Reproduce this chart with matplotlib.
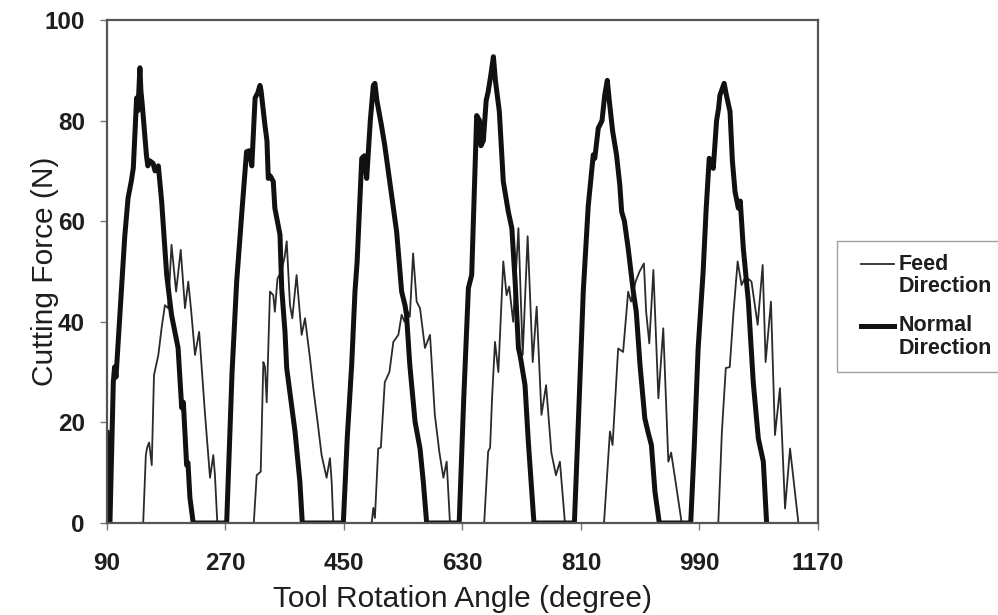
import matplotlib
matplotlib.use("Agg")
import matplotlib.pyplot as plt
from matplotlib.legend_handler import HandlerLine2D

plt.rcParams['font.family'] = ['Liberation Sans', 'DejaVu Sans']

# Normal direction cutting force (thick line)
normal_angle = [90, 94.5, 99.6, 101.5, 103.7, 108, 112, 117, 122, 127, 130, 135, 137, 140, 141.5, 143.7,
                150, 152, 155, 160, 163, 168, 173, 180.7, 188, 198, 203.5, 206, 211, 213, 216, 221,
                271.8, 280, 287, 295, 302, 306, 310, 315, 319, 322.4, 324, 330, 333, 335, 338, 342.6,
                345, 352.8, 355.4, 360.4, 363, 375.6, 383, 386.7,
                449, 455, 461.7, 466.7, 470, 477, 481, 484.5, 490, 494.6, 497, 500, 507, 512, 517.3,
                522.5, 530, 537.6, 542.7, 545, 550, 558, 565.5, 570.5, 575.6,
                625, 632, 639, 644, 651.6, 656, 658, 661.7, 666, 669, 673, 677, 680, 686, 692, 699.6,
                705, 710, 715, 718, 725, 730, 735, 738.6,
                800, 806, 813.5, 821, 828.7, 831, 836.3, 842, 846, 850, 853, 858, 864, 869, 871.8,
                876, 881.7, 889.5, 894, 899.7, 907, 912, 917, 922.4, 929,
                976.7, 982, 988, 995.6, 1000, 1004.8, 1008, 1011, 1016, 1019, 1021, 1027.5, 1031,
                1036.4, 1040, 1044, 1049, 1052, 1056.6, 1064.3, 1071.7, 1079.4, 1087, 1092]
normal_force = [18, 0, 28, 31, 29, 38, 46.7, 57, 64.6, 68, 70.6, 84.5, 82, 90.5, 86, 83,
                73, 71, 72, 71.5, 70, 71, 64, 49.3, 41.4, 34.8, 22.9, 24, 11.5, 12, 5, 0,
                0, 30, 48, 62, 73.8, 74, 71, 84.5, 85.5, 87, 86, 79, 76, 68.5, 69, 67.9,
                62.6, 57.3, 46.7, 38, 30.8, 18.2, 8.2, 0,
                0, 17, 31.4, 46, 52, 72.5, 73, 68.5, 80, 87, 87.4, 84, 79, 75, 70,
                65.2, 57.9, 46, 43.3, 41.4, 31.4, 20.1, 14.8, 8.2, 0,
                0, 25, 46.7, 49.3, 81, 80, 75, 76, 84, 85.7, 89, 92.7, 88, 81.8, 67.9, 61.9,
                58.6, 48, 34.8, 33, 27.4, 16.2, 6.9, 0,
                0, 20, 46, 63, 73.2, 72.5, 78.5, 80, 85, 88, 84, 78, 73.2, 67.2, 61.9,
                60, 54.6, 46, 42, 31.4, 20.8, 18, 15.5, 6.2, 0,
                0, 15, 34.7, 50, 62, 72.5, 72, 70.5, 80, 82.4, 85, 87.4, 85,
                81.8, 72, 65.9, 62.6, 64, 54.6, 44, 28, 16.8, 12.2, 0]

# Feed direction cutting force (thin line)
feed_angle = [90, 145, 149, 151, 154, 158, 161.4, 168, 173, 178, 183, 188, 195, 202, 208.5, 213.5,
              218, 223.7, 230, 239, 246.5, 251.5, 254, 257.6,
              313, 317.4, 323.5, 327.5, 330, 332.6, 337.6, 342.6, 345, 349, 355, 360, 363, 368,
              371.5, 378, 385.7, 390.8, 398.4, 403.4, 410, 416, 423.6, 428.7, 431.3, 433.8,
              492, 494.6, 497, 502, 506, 512, 519, 525, 532.6, 537.6, 542, 547, 550, 555, 560.4,
              565.5, 573, 580.7, 588, 595, 601, 606, 611,
              663, 669, 672, 675, 679.4, 684.5, 692, 697, 701, 707, 715, 721.5, 729, 736.7, 742.7,
              750, 757, 765, 772, 778, 785.7,
              845, 854, 858, 866.5, 874, 881.7, 886, 893, 899, 905.6, 909, 913.8, 920, 927.6, 935,
              942.7, 947, 954.4, 963,
              1018.6, 1024, 1030, 1036, 1041.4, 1048, 1054, 1060, 1069, 1078.4, 1086, 1090.5,
              1098.6, 1104.7, 1112.3, 1120, 1127.6, 1140.3]
feed_force = [0, 0, 13.5, 15, 16, 11.5, 29.4, 33.4, 38.8, 43.3, 42.7, 55.3, 46, 54.3, 42.7, 48,
              42, 33.4, 38, 21.5, 9, 13.5, 9.5, 0,
              0, 9.5, 10.2, 32, 31, 24, 46, 45.3, 42, 48.6, 50, 53, 56, 43.3,
              40.7, 49.3, 37.4, 40.7, 32.7, 26.8, 20, 13.5, 9, 12.9, 8.2, 0,
              0, 3, 1, 14.8, 15, 28, 30, 36, 37.4, 41.4, 40, 42, 41, 53.6, 44,
              42.7, 34.8, 37.4, 21.5, 14, 9, 12.2, 0,
              0, 14.2, 15, 25, 36, 30, 52, 45.3, 47, 40, 58.6, 33.4, 57, 32, 43,
              21.5, 27.4, 14, 9.5, 12.2, 0,
              0, 18.2, 15.5, 34.7, 34, 46, 44, 48, 50, 51.6, 42, 35.7, 50.3, 24.8, 38.7,
              12.2, 14, 7.6, 0,
              0, 18, 30.8, 31, 41.4, 52, 47.3, 49, 48, 39.4, 51.3, 32,
              44, 17.5, 26.8, 2.9, 14.8, 0]

x_ticks = [90, 270, 450, 630, 810, 990, 1170]
y_ticks = [0, 20, 40, 60, 80, 100]

LEG_LINESPACING = 1.08


class TopLineHandler(HandlerLine2D):
    # put the legend line next to the first text line and leave a gap before it
    def create_artists(self, legend, orig_handle, xdescent, ydescent, width, height, fontsize, trans):
        arts = super().create_artists(legend, orig_handle, xdescent,
                                      ydescent - LEG_LINESPACING * fontsize,
                                      width, height, fontsize, trans)
        line = arts[0]
        xd = line.get_xdata()
        yd = line.get_ydata()
        line.set_data([xd[0] + 0.5 * fontsize, xd[-1]], [yd[0], yd[0]])
        return arts


fig = plt.figure(figsize=(9.98, 6.15), dpi=100)
ax = fig.add_axes([0.1072, 0.1496, 0.7124, 0.8179])

feed_line, = ax.plot(feed_angle, feed_force, color='#2a2a2a', linewidth=1.3,
                     label='Feed\nDirection')
normal_line, = ax.plot(normal_angle, normal_force, color='#111111', linewidth=3.6,
                       label='Normal\nDirection')

ax.set_xlim(90, 1170)
ax.set_ylim(0, 100)
ax.set_xticks(x_ticks)
ax.set_yticks(y_ticks)
ax.tick_params(axis='both', direction='out', length=5, width=1, color='#777777',
               labelsize=17.5)
ax.tick_params(axis='x', pad=16)
ax.tick_params(axis='y', pad=11)
for lbl in ax.get_xticklabels() + ax.get_yticklabels():
    lbl.set_fontweight('bold')
    lbl.set_color('#1e1e1e')
for sp in ax.spines.values():
    sp.set_color('#555555')
    sp.set_linewidth(1.6)

ax.set_xlabel('Tool Rotation Angle (degree)', fontsize=21.5, color='#1e1e1e')
ax.set_ylabel('Cutting Force (N)', fontsize=21.5, color='#1e1e1e')
ax.xaxis.set_label_coords(0.5, -0.124)
ax.yaxis.set_label_coords(-0.067, 0.5)

leg = fig.legend(handles=[feed_line, normal_line], loc='upper left',
                 bbox_to_anchor=(837 / 998, 1 - 241 / 615), borderaxespad=0,
                 frameon=True, fancybox=False,
                 prop={'weight': 'bold', 'size': 15.5}, handlelength=2.05,
                 handletextpad=0.2, labelspacing=0.85, borderpad=0.6,
                 handler_map={feed_line: TopLineHandler(), normal_line: TopLineHandler()})
leg.get_frame().set_edgecolor('#8a8a8a')
leg.get_frame().set_linewidth(1.0)
for t in leg.get_texts():
    t.set_color('#1e1e1e')
    t.set_linespacing(LEG_LINESPACING)

fig.savefig('out.png', dpi=100)
